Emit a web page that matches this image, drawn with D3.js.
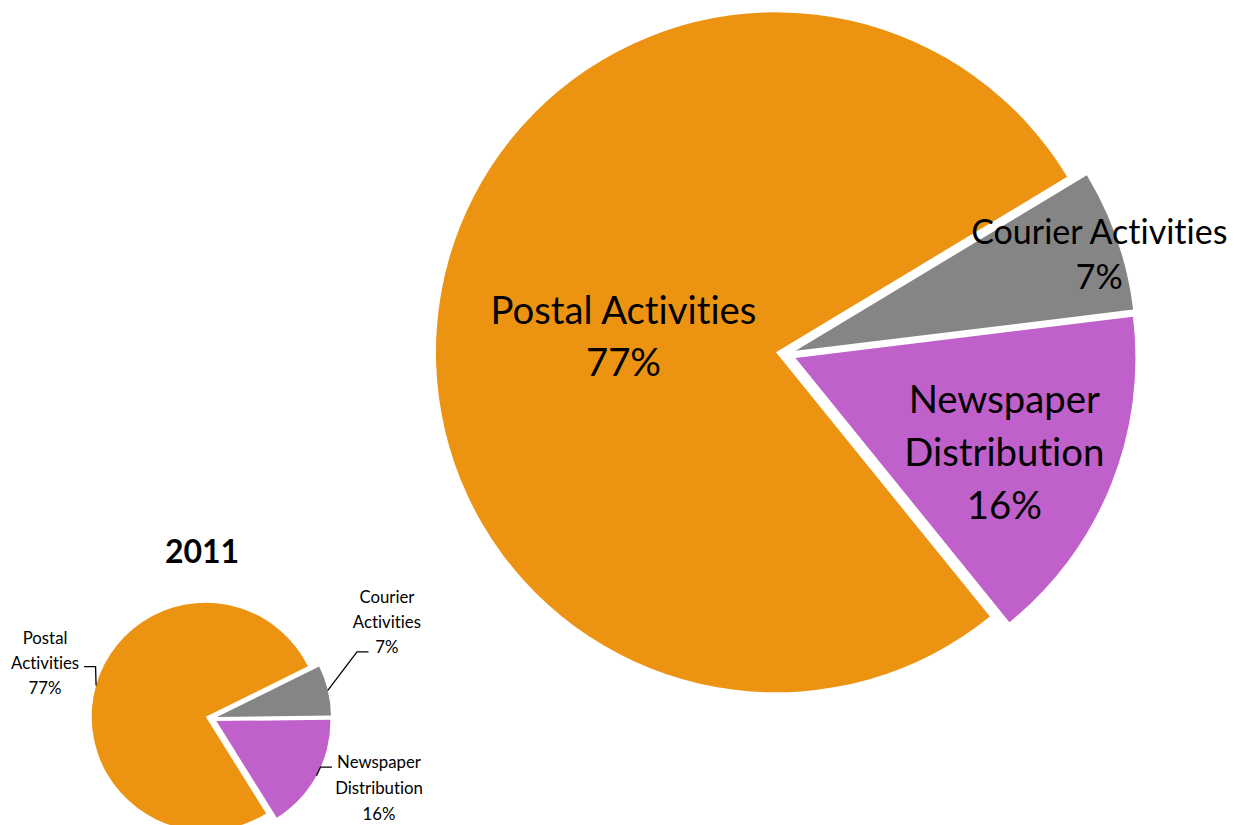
<!DOCTYPE html>
<html>
<head>
<meta charset="utf-8">
<script src="https://cdn.jsdelivr.net/npm/d3@7"></script>
<style>
  body { margin: 0; background: #fff; }
  svg { display: block; }
  text { font-family: Lato, "Open Sans", sans-serif; fill: #000; font-variant-ligatures: none; font-feature-settings: "liga" 0; }
</style>
</head>
<body>
<div id="chart"></div>
<script>
// data
var categories = ["Postal Activities", "Courier Activities", "Newspaper Distribution"];
var bigLabelLines = [["Postal Activities"], ["Courier Activities"], ["Newspaper", "Distribution"]];
var smallLabelLines = [["Postal", "Activities"], ["Courier", "Activities"], ["Newspaper", "Distribution"]];
var sharesMain = [77.2, 6.7, 16.1];
var shares2011 = [76.6, 7.1, 16.3];
var smallTitle = "2011";
var colors = ["#ec9412", "#858585", "#c060ca"];

var width = 1234, height = 825;
var rad = Math.PI / 180;

var svg = d3.select("#chart").append("svg")
    .attr("width", width)
    .attr("height", height);

// one pie group, slices pulled apart like excel "point explosion"
function drawPie(shares, opt) {
  var total = d3.sum(shares);
  var pie = d3.pie().sort(null)
      .startAngle(opt.start * rad)
      .endAngle(opt.start * rad + 2 * Math.PI);
  var arc = d3.arc().innerRadius(0).outerRadius(opt.r);
  var arcs = pie(shares);

  var g = svg.append("g").attr("transform", "translate(" + opt.cx + "," + opt.cy + ")");

  arcs.forEach(function(d, i) {
    var mid = (d.startAngle + d.endAngle) / 2;
    d.mid = mid;
    d.ox = opt.explode * Math.sin(mid);
    d.oy = -opt.explode * Math.cos(mid);
    d.pct = Math.round(d.value / total * 100) + "%";
    d.i = i;
  });

  g.selectAll("path.slice")
    .data(arcs)
    .enter().append("path")
      .attr("class", "slice")
      .attr("transform", function(d) { return "translate(" + d.ox + "," + d.oy + ")"; })
      .attr("fill", function(d) { return colors[d.i]; })
      .attr("d", arc);

  // labels
  arcs.forEach(function(d, i) {
    var lines = opt.lines[i].concat([d.pct]);
    var fs = opt.fontSize[i], lh = opt.lineH[i];
    var a = opt.labelAngle[i] * rad, rr = opt.labelFrac[i] * opt.r;
    var ax = d.ox + rr * Math.sin(a), ay = d.oy - rr * Math.cos(a);
    var cap = 0.72 * fs;
    var y0 = ay - ((lines.length - 1) * lh + cap) / 2 + cap;

    var t = g.append("text")
        .attr("text-anchor", "middle")
        .style("font-size", fs + "px");
    lines.forEach(function(s, k) {
      t.append("tspan").attr("x", ax).attr("y", y0 + k * lh).text(s);
    });

    if (opt.leader) {
      var ld = opt.leader[i];
      var ex = ax + ld[0], ey = ay + ld[1];
      var side = ax < d.ox ? 1 : -1;
      var px = d.ox + opt.r * Math.sin(d.mid), py = d.oy - opt.r * Math.cos(d.mid);
      g.append("path")
        .attr("fill", "none")
        .attr("stroke", "#000")
        .attr("stroke-width", 1.3)
        .attr("d", d3.line()([[ex, ey], [ex + side * 11.5, ey], [px, py]]));
    }
  });
  return g;
}

// big pie
drawPie(sharesMain, {
  cx: 786, cy: 354.1, r: 340, explode: 10.2, start: 141,
  lines: bigLabelLines,
  fontSize: [38.3, 34, 38.3],
  lineH: [51.6, 45, 53],
  labelAngle: [276.1, 72.4, 114.3],
  labelFrac: [0.451, 0.937, 0.674]
});

// small 2011 pie
drawPie(shares2011, {
  cx: 211.3, cy: 718.3, r: 114, explode: 5.8, start: 148,
  lines: smallLabelLines,
  fontSize: [16.8, 16.8, 16.8],
  lineH: [25, 25, 25.8],
  labelAngle: [288.5, 60.8, 112.3],
  labelFrac: [1.486, 1.708, 1.542],
  leader: [[39, 3.7], [-18.4, 30], [-47, -20.7]]
});

svg.append("text")
    .attr("x", 202)
    .attr("y", 562.7)
    .attr("text-anchor", "middle")
    .style("font-size", "32px")
    .style("font-weight", "bold")
    .text(smallTitle);
</script>
</body>
</html>
